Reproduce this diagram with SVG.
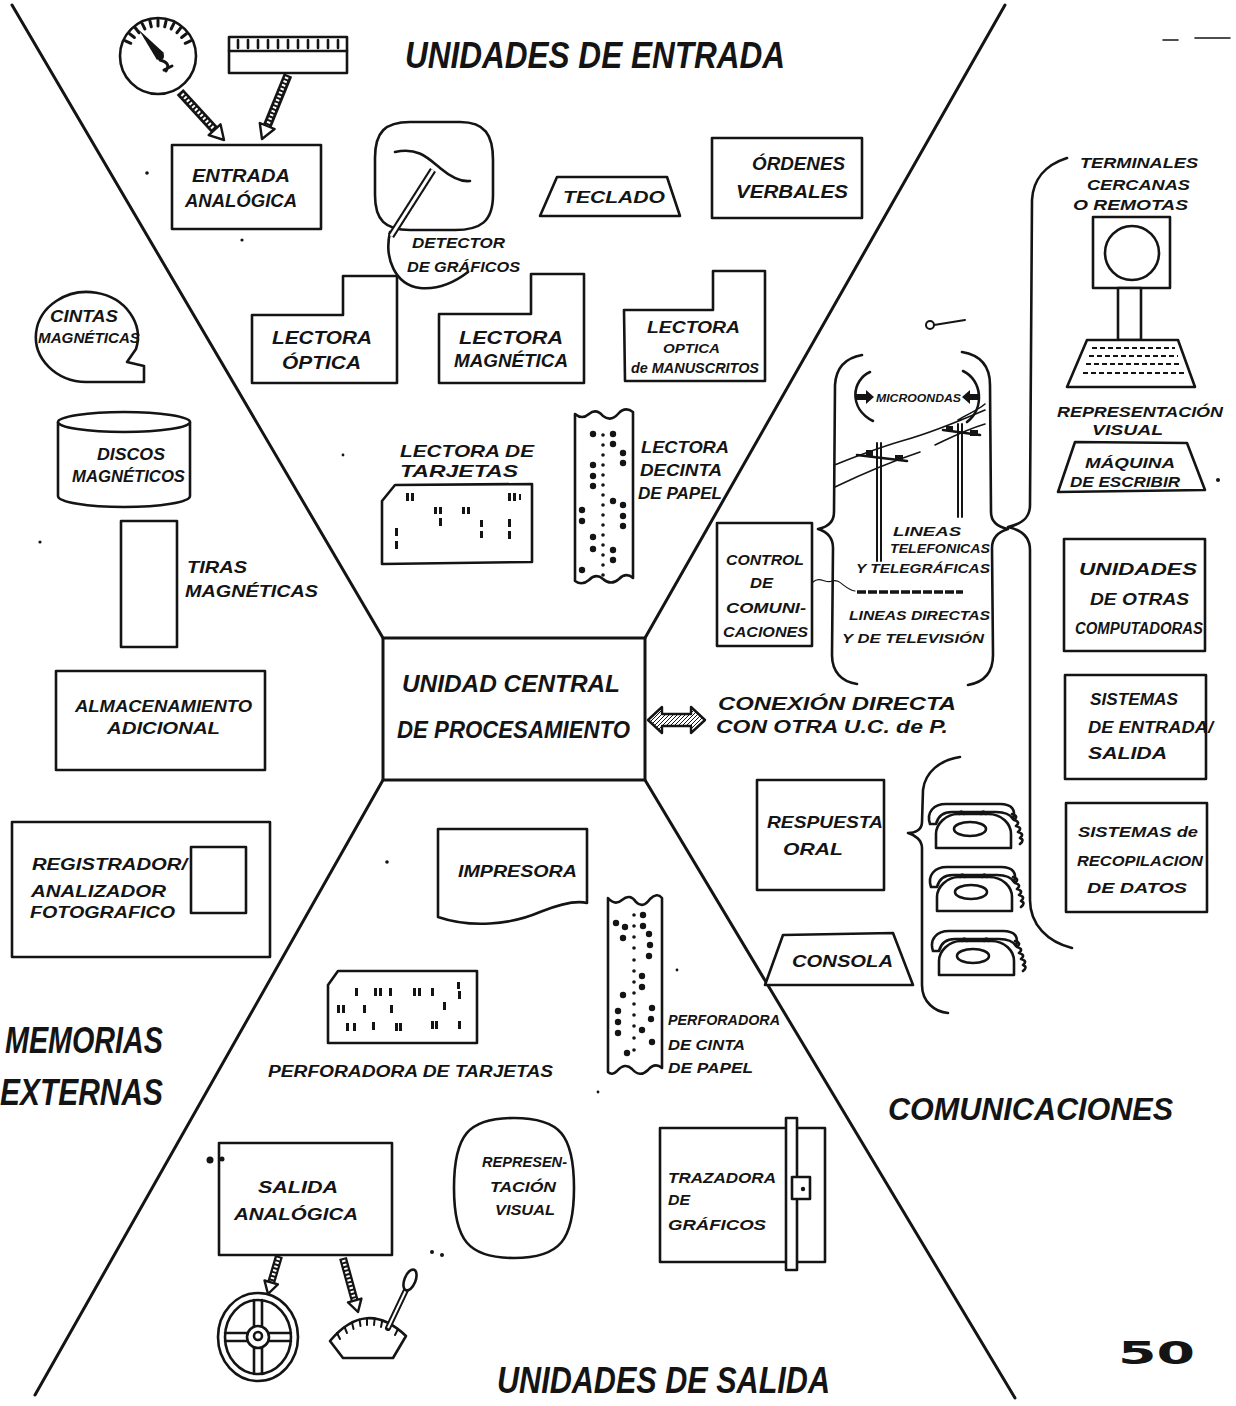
<svg xmlns="http://www.w3.org/2000/svg" width="1236" height="1406" viewBox="0 0 1236 1406">
<style>
  .ink{fill:none;stroke:#141414;stroke-width:2.6;stroke-linecap:round;stroke-linejoin:round}
  .thin{fill:none;stroke:#141414;stroke-width:1.6;stroke-linecap:round;stroke-linejoin:round}
  .box{fill:#fff;stroke:#141414;stroke-width:2.6;stroke-linejoin:round}
  .div{fill:none;stroke:#141414;stroke-width:3;stroke-linecap:round}
  .dot{fill:#141414}
  .shaft{stroke:#141414;stroke-width:9;stroke-linecap:butt}
  .shaft-in{stroke:#fff;stroke-width:3.5;stroke-dasharray:2 2}
  .head{fill:#fff;stroke:#141414;stroke-width:2.4;stroke-linejoin:round}
  text{font-family:"Liberation Sans","DejaVu Sans",Arial,sans-serif;font-style:italic;font-weight:bold;fill:#141414}
  .s11{font-size:11px}.s13{font-size:13px}.s14{font-size:14px}.s15{font-size:15px}
  .s16{font-size:16px}.s17{font-size:17px}.s18{font-size:18px}.s23{font-size:23px}
  .s32{font-size:32px}.s36{font-size:36px}
  .num{font-family:"DejaVu Sans","Liberation Sans",sans-serif;font-style:normal;font-weight:900}
</style>
<defs>
  <!-- rotary telephone, drawn at local origin -->
  <g id="phone">
    <path class="box" d="M8,46 L8,32 C8,22 18,12 30,12 L60,12 C74,12 83,22 83,32 L83,46 Z"/>
    <path class="box" d="M2,22 C-2,10 6,2 18,2 L72,2 C84,2 88,8 85,17 C82,12 76,10 68,10 L24,10 C16,10 10,14 8,22 Z"/>
    <path class="ink" d="M31,12 q2,-5 5,0 M53,12 q2,-5 5,0"/>
    <ellipse class="ink" cx="42" cy="27" rx="16" ry="7"/>
    <path class="ink" d="M84,12 q7,2 2,6 q7,2 2,6 q7,2 2,6 q7,2 2,6 q5,2 0,6"/>
  </g>
  <pattern id="hatch" width="4" height="4" patternUnits="userSpaceOnUse">
    <rect width="4" height="4" fill="#fff"/>
    <path d="M0,4 L4,0" stroke="#141414" stroke-width="1"/>
  </pattern>
</defs>

<!-- region dividers -->
<g id="dividers">
  <path class="div" d="M12,5 L383,638 M1005,5 L645,638 M383,780 L35,1395 M645,780 L1015,1398"/>
  <path class="thin" d="M1163,40 L1178,40 M1195,38 L1230,38"/>
</g>

<!-- section titles -->
<g id="titles">
  <text class="s36" x="405" y="68" textLength="380" lengthAdjust="spacingAndGlyphs">UNIDADES DE ENTRADA</text>
  <text class="s36" x="5" y="1053" textLength="158" lengthAdjust="spacingAndGlyphs">MEMORIAS</text>
  <text class="s36" x="0" y="1105" textLength="163" lengthAdjust="spacingAndGlyphs">EXTERNAS</text>
  <text class="s32" x="888" y="1120" textLength="285" lengthAdjust="spacingAndGlyphs">COMUNICACIONES</text>
  <text class="s36" x="497" y="1393" textLength="333" lengthAdjust="spacingAndGlyphs">UNIDADES DE SALIDA</text>
  <text class="s32 num" x="1118" y="1364" textLength="77" lengthAdjust="spacingAndGlyphs">50</text>
</g>

<!-- central processing unit -->
<g id="cpu">
  <rect class="box" x="383" y="638" width="262" height="142" style="stroke-width:3"/>
  <text class="s23" x="402" y="692" textLength="218" lengthAdjust="spacingAndGlyphs">UNIDAD CENTRAL</text>
  <text class="s23" x="397" y="738" textLength="233" lengthAdjust="spacingAndGlyphs">DE PROCESAMIENTO</text>
</g>

<!-- input units -->
<g id="gauge">
  <circle class="box" cx="158" cy="56" r="38"/>
  <path class="ink" style="stroke-width:3" d="M130.8,43.3 L125.4,40.8 M134.4,37.5 L129.6,33.8 M139.1,32.7 L135.4,28 M144.9,29 L142.2,23.6 M151.3,26.8 L149.9,20.9 M158,26 L158,20 M164.7,26.8 L166.1,20.9 M171.1,29 L173.8,23.6 M176.9,32.7 L180.6,28 M181.6,37.5 L186.4,33.8 M185.2,43.3 L190.6,40.8"/>
  <polygon class="dot" points="139,30 164,53 157,60"/>
  <circle class="dot" cx="160" cy="56" r="4"/>
  <path class="ink" style="stroke-width:3" d="M160,60 C167,62 170,65 166,71 M164,70 L172,66"/>
</g>
<g id="ruler">
  <rect class="box" x="229" y="37" width="118" height="36"/>
  <path class="ink" d="M229,51 L347,51 M238,40 L238,48 M248,40 L248,48 M258,40 L258,48 M268,40 L268,48 M278,40 L278,48 M288,40 L288,48 M298,40 L298,48 M308,40 L308,48 M318,40 L318,48 M328,40 L328,48 M338,40 L338,48"/>
</g>
<g id="entrada-analogica">
  <rect class="box" x="172" y="145" width="149" height="84"/>
  <text class="s18" x="192" y="182" textLength="98" lengthAdjust="spacingAndGlyphs">ENTRADA</text>
  <text class="s18" x="185" y="207" textLength="112" lengthAdjust="spacingAndGlyphs">ANALÓGICA</text>
</g>
<g id="detector-graficos">
  <path class="box" d="M410,122 L460,122 C485,122 493,135 493,160 L493,195 C493,222 480,230 455,230 L410,230 C385,230 375,220 375,195 L375,158 C375,132 385,122 410,122 Z"/>
  <path class="ink" d="M395,152 C418,147 428,158 440,168 C452,178 462,182 470,181"/>
  <path class="ink" d="M390,232 C384,258 395,285 420,288 C440,290 455,282 468,272"/>
  <line x1="391" y1="236" x2="433" y2="170" class="shaft" style="stroke-width:7"/>
  <line x1="391" y1="236" x2="433" y2="170" stroke="#fff" stroke-width="3"/>
  <text class="s15" x="412" y="248" textLength="93" lengthAdjust="spacingAndGlyphs">DETECTOR</text>
  <text class="s15" x="407" y="272" textLength="113" lengthAdjust="spacingAndGlyphs">DE GRÁFICOS</text>
</g>
<g id="teclado">
  <polygon class="box" points="557,177 667,177 680,216 540,216"/>
  <text class="s17" x="563" y="203" textLength="102" lengthAdjust="spacingAndGlyphs">TECLADO</text>
</g>
<g id="ordenes-verbales">
  <rect class="box" x="712" y="138" width="150" height="80"/>
  <text class="s18" x="752" y="170" textLength="93" lengthAdjust="spacingAndGlyphs">ÓRDENES</text>
  <text class="s18" x="736" y="198" textLength="112" lengthAdjust="spacingAndGlyphs">VERBALES</text>
</g>
<g id="lectora-optica">
  <polygon class="box" points="252,315 343,315 343,276 397,276 397,383 252,383"/>
  <text class="s18" x="272" y="344" textLength="100" lengthAdjust="spacingAndGlyphs">LECTORA</text>
  <text class="s18" x="282" y="369" textLength="79" lengthAdjust="spacingAndGlyphs">ÓPTICA</text>
</g>
<g id="lectora-magnetica">
  <polygon class="box" points="439,314 531,314 531,274 584,274 584,383 439,383"/>
  <text class="s18" x="459" y="344" textLength="104" lengthAdjust="spacingAndGlyphs">LECTORA</text>
  <text class="s18" x="454" y="367" textLength="114" lengthAdjust="spacingAndGlyphs">MAGNÉTICA</text>
</g>
<g id="lectora-manuscritos">
  <polygon class="box" points="624,310 713,310 713,271 765,271 765,381 625,381"/>
  <text class="s16" x="647" y="333" textLength="93" lengthAdjust="spacingAndGlyphs">LECTORA</text>
  <text class="s13" x="663" y="353" textLength="57" lengthAdjust="spacingAndGlyphs">OPTICA</text>
  <text class="s15" x="631" y="373" textLength="128" lengthAdjust="spacingAndGlyphs">de MANUSCRITOS</text>
</g>
<g id="lectora-tarjetas" transform="translate(0,-12)">
  <text class="s17" x="400" y="469" textLength="134" lengthAdjust="spacingAndGlyphs">LECTORA DE</text>
  <text class="s17" x="400" y="489" textLength="118" lengthAdjust="spacingAndGlyphs">TARJETAS</text>
  <polygon class="box" points="395,497 532,496 532,574 382,576 382,513"/>
  <g class="dot">
    <rect x="406" y="505" width="3" height="8"/><rect x="411" y="505" width="3" height="8"/>
    <rect x="508" y="505" width="3" height="8"/><rect x="513" y="505" width="3" height="8"/><rect x="519" y="506" width="2" height="6"/>
    <rect x="434" y="519" width="3" height="7"/><rect x="439" y="519" width="3" height="7"/>
    <rect x="462" y="519" width="3" height="7"/><rect x="467" y="519" width="3" height="7"/>
    <rect x="439" y="530" width="3" height="8"/>
    <rect x="480" y="532" width="3" height="7"/><rect x="480" y="543" width="3" height="7"/>
    <rect x="508" y="531" width="3" height="8"/><rect x="508" y="543" width="3" height="8"/>
    <rect x="395" y="540" width="3" height="8"/><rect x="395" y="553" width="3" height="8"/>
  </g>
</g>
<g id="lectora-cinta" transform="translate(0,-12)">
  <path class="box" d="M575,426 Q582,432 589,426 Q596,420 603,428 Q611,434 618,426 Q625,418 633,424 L633,590 Q626,584 619,591 Q611,598 603,591 Q596,585 589,592 Q582,598 575,593 Z"/>
  <g class="dot">
    <circle cx="603" cy="447" r="1.8"/><circle cx="603" cy="457" r="1.8"/><circle cx="603" cy="467" r="1.8"/><circle cx="603" cy="477" r="1.8"/><circle cx="603" cy="487" r="1.8"/><circle cx="603" cy="497" r="1.8"/><circle cx="603" cy="507" r="1.8"/><circle cx="603" cy="517" r="1.8"/><circle cx="603" cy="527" r="1.8"/><circle cx="603" cy="537" r="1.8"/><circle cx="603" cy="547" r="1.8"/><circle cx="603" cy="557" r="1.8"/><circle cx="603" cy="567" r="1.8"/><circle cx="603" cy="577" r="1.8"/><circle cx="603" cy="587" r="1.8"/>
    <circle cx="593" cy="446" r="3.2"/><circle cx="613" cy="446" r="3.2"/><circle cx="613" cy="456" r="3.2"/><circle cx="623" cy="465" r="3.2"/><circle cx="623" cy="475" r="3.2"/>
    <circle cx="593" cy="477" r="3.2"/><circle cx="593" cy="488" r="3.2"/><circle cx="593" cy="498" r="3.2"/><circle cx="613" cy="513" r="3.2"/><circle cx="623" cy="517" r="3.2"/>
    <circle cx="582" cy="522" r="3.2"/><circle cx="582" cy="533" r="3.2"/><circle cx="623" cy="528" r="3.2"/><circle cx="623" cy="538" r="3.2"/><circle cx="593" cy="549" r="3.2"/>
    <circle cx="593" cy="561" r="3.2"/><circle cx="613" cy="562" r="3.2"/><circle cx="613" cy="572" r="3.2"/><circle cx="582" cy="582" r="3.2"/>
  </g>
  <text class="s17" x="641" y="465" textLength="88" lengthAdjust="spacingAndGlyphs">LECTORA</text>
  <text class="s17" x="640" y="488" textLength="82" lengthAdjust="spacingAndGlyphs">DECINTA</text>
  <text class="s17" x="638" y="511" textLength="84" lengthAdjust="spacingAndGlyphs">DE PAPEL</text>
</g>

<!-- external memories -->
<g id="cintas-magneticas">
  <path class="box" d="M136,349 L127,362 L144,366 L144,382 L86,382 A51,45 0 1 1 136,349 Z"/>
  <text class="s16" x="50" y="322" textLength="68" lengthAdjust="spacingAndGlyphs">CINTAS</text>
  <text class="s15" x="38" y="343" textLength="102" lengthAdjust="spacingAndGlyphs">MAGNÉTICAS</text>
</g>
<g id="discos-magneticos">
  <path class="box" d="M58,422 L58,496 A66,11 0 0 0 190,496 L190,422"/>
  <ellipse class="box" cx="124" cy="422" rx="66" ry="10"/>
  <text class="s16" x="97" y="460" textLength="68" lengthAdjust="spacingAndGlyphs">DISCOS</text>
  <text class="s16" x="72" y="482" textLength="113" lengthAdjust="spacingAndGlyphs">MAGNÉTICOS</text>
</g>
<g id="tiras-magneticas">
  <rect class="box" x="121" y="521" width="56" height="126"/>
  <text class="s17" x="187" y="573" textLength="60" lengthAdjust="spacingAndGlyphs">TIRAS</text>
  <text class="s17" x="185" y="597" textLength="133" lengthAdjust="spacingAndGlyphs">MAGNÉTICAS</text>
</g>
<g id="almacenamiento-adicional">
  <rect class="box" x="56" y="671" width="209" height="99"/>
  <text class="s16" x="75" y="712" textLength="177" lengthAdjust="spacingAndGlyphs">ALMACENAMIENTO</text>
  <text class="s16" x="107" y="734" textLength="113" lengthAdjust="spacingAndGlyphs">ADICIONAL</text>
</g>
<g id="registrador-fotografico">
  <rect class="box" x="12" y="822" width="258" height="135"/>
  <rect class="box" x="191" y="847" width="55" height="66"/>
  <text class="s16" x="32" y="870" textLength="155" lengthAdjust="spacingAndGlyphs">REGISTRADOR/</text>
  <text class="s16" x="31" y="897" textLength="135" lengthAdjust="spacingAndGlyphs">ANALIZADOR</text>
  <text class="s16" x="30" y="918" textLength="145" lengthAdjust="spacingAndGlyphs">FOTOGRAFICO</text>
</g>

<!-- communications -->
<g id="conexion-directa">
  <text class="s18" x="718" y="710" textLength="238" lengthAdjust="spacingAndGlyphs">CONEXIÓN DIRECTA</text>
  <text class="s18" x="716" y="733" textLength="232" lengthAdjust="spacingAndGlyphs">CON OTRA U.C. de P.</text>
</g>
<g id="control-comunicaciones">
  <rect class="box" x="717" y="523" width="95" height="123"/>
  <text class="s14" x="726" y="565" textLength="78" lengthAdjust="spacingAndGlyphs">CONTROL</text>
  <text class="s14" x="750" y="588" textLength="23" lengthAdjust="spacingAndGlyphs">DE</text>
  <text class="s14" x="726" y="613" textLength="80" lengthAdjust="spacingAndGlyphs">COMUNI-</text>
  <text class="s14" x="723" y="637" textLength="85" lengthAdjust="spacingAndGlyphs">CACIONES</text>
</g>
<g id="lineas">
  <path class="ink" d="M862,355 C845,358 836,368 835,385 L834,512 C834,522 828,527 818,529 C828,532 833,538 833,548 L832,655 C832,672 842,682 857,684"/>
  <path class="ink" d="M962,352 C980,355 990,365 990,385 L991,512 C991,522 998,527 1008,529 C998,532 992,538 992,548 L993,655 C993,672 985,682 968,685"/>
  <path class="ink" d="M870,372 C852,380 848,408 873,421 M963,371 C982,380 985,408 967,422"/>
  <polygon class="dot" points="856,394 866,394 866,390 874,397 866,404 866,400 856,400"/>
  <polygon class="dot" points="979,394 970,394 970,390 962,397 970,404 970,400 979,400"/>
  <text class="s11" x="876" y="402" textLength="85" lengthAdjust="spacingAndGlyphs">MICROONDAS</text>
  <path class="thin" style="stroke-width:2" d="M877,443 L877,561 M881,443 L881,561 M958,424 L958,517 M962,424 L962,517"/>
  <path class="ink" d="M857,455 L907,461 M943,430 L980,435"/>
  <path class="dot" d="M866,450 h7 v6 h-7 z M895,455 h8 v6 h-8 z M946,426 h7 v5 h-7 z M970,430 h8 v6 h-8 z"/>
  <path class="thin" d="M834,465 C860,455 880,447 905,440 C930,433 950,425 985,410 M835,487 C860,475 890,462 920,452 M935,445 C950,438 965,430 985,424 M958,420 C968,414 978,410 985,404"/>
  <text class="s13" x="893" y="536" textLength="68" lengthAdjust="spacingAndGlyphs">LINEAS</text>
  <text class="s13" x="890" y="553" textLength="100" lengthAdjust="spacingAndGlyphs">TELEFONICAS</text>
  <text class="s13" x="856" y="573" textLength="134" lengthAdjust="spacingAndGlyphs">Y TELEGRÁFICAS</text>
  <path class="thin" style="stroke-width:1.2" d="M813,582 C820,576 826,584 832,581 C840,578 845,590 855,591"/>
  <line x1="857" y1="592" x2="963" y2="592" stroke="#141414" stroke-width="3.5" stroke-dasharray="9 2"/>
  <text class="s13" x="849" y="620" textLength="141" lengthAdjust="spacingAndGlyphs">LINEAS DIRECTAS</text>
  <text class="s13" x="842" y="643" textLength="142" lengthAdjust="spacingAndGlyphs">Y DE TELEVISIÓN</text>
  <circle class="ink" style="stroke-width:2" cx="930" cy="325" r="4"/>
  <path class="ink" style="stroke-width:2" d="M934,325 L965,320"/>
</g>
<g id="terminales">
  <path class="ink" d="M1067,158 C1045,165 1033,180 1032,200 L1030,505 C1030,518 1022,524 1008,527 C1022,530 1030,538 1030,550 L1030,900 C1030,925 1048,942 1072,948"/>
  <text class="s15" x="1080" y="168" textLength="118" lengthAdjust="spacingAndGlyphs">TERMINALES</text>
  <text class="s15" x="1087" y="190" textLength="103" lengthAdjust="spacingAndGlyphs">CERCANAS</text>
  <text class="s15" x="1073" y="210" textLength="115" lengthAdjust="spacingAndGlyphs">O REMOTAS</text>
</g>
<g id="representacion-visual-terminal">
  <rect class="box" x="1093" y="217" width="77" height="71"/>
  <circle class="ink" cx="1132" cy="253" r="27"/>
  <rect class="box" x="1118" y="288" width="23" height="52"/>
  <polygon class="box" points="1087,340 1178,340 1195,387 1067,387"/>
  <path stroke="#141414" stroke-width="2.2" stroke-dasharray="5 3" d="M1092,348 L1175,348 M1089,356 L1178,356 M1086,364 L1181,364 M1083,373 L1184,373"/>
  <text class="s15" x="1057" y="417" textLength="166" lengthAdjust="spacingAndGlyphs">REPRESENTACIÓN</text>
  <text class="s15" x="1092" y="435" textLength="71" lengthAdjust="spacingAndGlyphs">VISUAL</text>
</g>
<g id="maquina-escribir">
  <polygon class="box" points="1075,442 1187,443 1205,490 1058,492"/>
  <text class="s15" x="1085" y="468" textLength="90" lengthAdjust="spacingAndGlyphs">MÁQUINA</text>
  <text class="s15" x="1070" y="487" textLength="110" lengthAdjust="spacingAndGlyphs">DE ESCRIBIR</text>
  <circle class="dot" cx="1218" cy="480" r="2"/>
</g>
<g id="otras-computadoras">
  <rect class="box" x="1064" y="539" width="141" height="112"/>
  <text class="s17" x="1079" y="575" textLength="118" lengthAdjust="spacingAndGlyphs">UNIDADES</text>
  <text class="s17" x="1090" y="605" textLength="99" lengthAdjust="spacingAndGlyphs">DE OTRAS</text>
  <text class="s16" x="1075" y="634" textLength="128" lengthAdjust="spacingAndGlyphs">COMPUTADORAS</text>
</g>
<g id="sistemas-entrada-salida">
  <rect class="box" x="1065" y="675" width="141" height="104"/>
  <text class="s16" x="1090" y="705" textLength="88" lengthAdjust="spacingAndGlyphs">SISTEMAS</text>
  <text class="s16" x="1088" y="733" textLength="125" lengthAdjust="spacingAndGlyphs">DE ENTRADA/</text>
  <text class="s16" x="1088" y="759" textLength="79" lengthAdjust="spacingAndGlyphs">SALIDA</text>
</g>
<g id="sistemas-recopilacion">
  <rect class="box" x="1066" y="803" width="141" height="109"/>
  <text class="s15" x="1078" y="837" textLength="120" lengthAdjust="spacingAndGlyphs">SISTEMAS de</text>
  <text class="s15" x="1077" y="866" textLength="126" lengthAdjust="spacingAndGlyphs">RECOPILACION</text>
  <text class="s15" x="1087" y="893" textLength="100" lengthAdjust="spacingAndGlyphs">DE DATOS</text>
</g>
<g id="respuesta-oral">
  <rect class="box" x="757" y="780" width="127" height="110"/>
  <text class="s17" x="767" y="828" textLength="116" lengthAdjust="spacingAndGlyphs">RESPUESTA</text>
  <text class="s17" x="783" y="855" textLength="60" lengthAdjust="spacingAndGlyphs">ORAL</text>
</g>
<g id="telefonos">
  <path class="ink" d="M960,757 C940,760 925,772 923,790 L922,822 C922,830 915,833 908,833 C915,835 922,840 922,848 L922,985 C922,1002 935,1012 948,1013"/>
  <use href="#phone" x="928" y="802"/>
  <use href="#phone" x="929" y="865"/>
  <use href="#phone" x="931" y="929"/>
</g>
<g id="consola">
  <polygon class="box" points="783,935 893,933 913,985 765,985"/>
  <text class="s17" x="792" y="967" textLength="101" lengthAdjust="spacingAndGlyphs">CONSOLA</text>
</g>

<!-- output units -->
<g id="impresora">
  <path class="box" d="M438,829 L587,829 L587,903 C575,900 560,904 540,912 C510,925 470,928 438,917 Z"/>
  <text class="s17" x="458" y="877" textLength="119" lengthAdjust="spacingAndGlyphs">IMPRESORA</text>
</g>
<g id="perforadora-tarjetas">
  <polygon class="box" points="338,971 477,971 477,1043 328,1043 328,985"/>
  <g class="dot">
    <rect x="355" y="988" width="3" height="8"/><rect x="374" y="988" width="3" height="8"/><rect x="379" y="988" width="3" height="8"/><rect x="389" y="988" width="3" height="8"/>
    <rect x="413" y="988" width="3" height="8"/><rect x="418" y="988" width="3" height="8"/><rect x="431" y="988" width="3" height="8"/><rect x="457" y="982" width="3" height="7"/><rect x="458" y="991" width="3" height="8"/>
    <rect x="337" y="1005" width="3" height="8"/><rect x="342" y="1005" width="3" height="8"/><rect x="363" y="1005" width="3" height="8"/><rect x="390" y="1005" width="3" height="8"/><rect x="443" y="1002" width="3" height="8"/>
    <rect x="346" y="1023" width="3" height="8"/><rect x="353" y="1023" width="3" height="8"/><rect x="372" y="1022" width="3" height="8"/><rect x="395" y="1023" width="3" height="8"/><rect x="399" y="1023" width="3" height="8"/>
    <rect x="431" y="1021" width="3" height="8"/><rect x="435" y="1021" width="3" height="8"/><rect x="458" y="1021" width="3" height="8"/>
  </g>
  <text class="s16" x="268" y="1077" textLength="285" lengthAdjust="spacingAndGlyphs">PERFORADORA DE TARJETAS</text>
</g>
<g id="perforadora-cinta">
  <path class="box" d="M608,898 Q615,906 622,900 Q630,893 636,902 Q643,909 650,899 Q657,892 662,898 L662,1068 Q655,1062 648,1070 Q640,1078 632,1069 Q625,1062 617,1071 Q612,1076 608,1072 Z"/>
  <g class="dot">
    <circle cx="634" cy="915" r="1.8"/><circle cx="634" cy="926" r="1.8"/><circle cx="634" cy="937" r="1.8"/><circle cx="634" cy="948" r="1.8"/><circle cx="634" cy="960" r="1.8"/><circle cx="634" cy="971" r="1.8"/><circle cx="634" cy="982" r="1.8"/><circle cx="634" cy="993" r="1.8"/><circle cx="634" cy="1004" r="1.8"/><circle cx="634" cy="1015" r="1.8"/><circle cx="634" cy="1026" r="1.8"/><circle cx="634" cy="1038" r="1.8"/><circle cx="634" cy="1050" r="1.8"/>
    <circle cx="616" cy="923" r="3.2"/><circle cx="625" cy="927" r="3.2"/><circle cx="643" cy="915" r="3.2"/><circle cx="643" cy="926" r="3.2"/><circle cx="623" cy="938" r="3.2"/>
    <circle cx="649" cy="934" r="3.2"/><circle cx="650" cy="945" r="3.2"/><circle cx="649" cy="956" r="3.2"/><circle cx="642" cy="976" r="3.2"/><circle cx="642" cy="987" r="3.2"/>
    <circle cx="623" cy="995" r="3.2"/><circle cx="618" cy="1011" r="3.2"/><circle cx="618" cy="1022" r="3.2"/><circle cx="618" cy="1033" r="3.2"/><circle cx="652" cy="1008" r="3.2"/>
    <circle cx="651" cy="1019" r="3.2"/><circle cx="642" cy="1030" r="3.2"/><circle cx="652" cy="1042" r="3.2"/><circle cx="627" cy="1053" r="3.2"/>
  </g>
  <text class="s14" x="668" y="1025" textLength="112" lengthAdjust="spacingAndGlyphs">PERFORADORA</text>
  <text class="s14" x="668" y="1050" textLength="77" lengthAdjust="spacingAndGlyphs">DE CINTA</text>
  <text class="s14" x="668" y="1073" textLength="85" lengthAdjust="spacingAndGlyphs">DE PAPEL</text>
</g>
<g id="salida-analogica">
  <rect class="box" x="219" y="1143" width="173" height="112"/>
  <circle class="dot" cx="210" cy="1160" r="3.5"/>
  <circle class="dot" cx="222" cy="1159" r="2.5"/>
  <text class="s17" x="258" y="1193" textLength="80" lengthAdjust="spacingAndGlyphs">SALIDA</text>
  <text class="s17" x="234" y="1220" textLength="124" lengthAdjust="spacingAndGlyphs">ANALÓGICA</text>
</g>
<g id="volante">
  <ellipse class="box" cx="258" cy="1337" rx="40" ry="44"/>
  <ellipse class="ink" cx="258" cy="1337" rx="33" ry="37"/>
  <path class="ink" d="M225,1333 L291,1333 M225,1341 L291,1341 M254,1300 L254,1374 M262,1300 L262,1374"/>
  <circle class="box" cx="258" cy="1337" r="11"/>
  <circle class="ink" cx="258" cy="1336" r="4"/>
</g>
<g id="cuadrante">
  <path class="box" d="M330,1341 Q366,1298 406,1336 L393,1358 L343,1358 Z"/>
  <path class="ink" style="stroke-width:2" d="M337,1333 L340,1339 M344.5,1327 L347,1333 M352,1322.5 L353.5,1329 M359.5,1319.6 L360.5,1326 M367,1318 L367,1325 M374.7,1318.6 L374,1325 M382.3,1320.5 L381,1327 M390,1324 L388,1330 M398,1329 L395,1335"/>
  <path class="ink" style="stroke-width:6" d="M388,1328 L406,1290"/>
  <path d="M388,1328 L406,1290" stroke="#fff" stroke-width="2"/>
  <ellipse class="box" cx="410" cy="1280" rx="5.5" ry="11" transform="rotate(22 410 1280)"/>
</g>
<g id="representacion-visual">
  <path class="box" d="M514,1118 C560,1118 574,1135 574,1188 C574,1240 560,1258 514,1258 C468,1258 454,1240 454,1188 C454,1135 468,1118 514,1118 Z"/>
  <text class="s15" x="482" y="1167" textLength="85" lengthAdjust="spacingAndGlyphs">REPRESEN-</text>
  <text class="s15" x="490" y="1192" textLength="66" lengthAdjust="spacingAndGlyphs">TACIÓN</text>
  <text class="s15" x="495" y="1215" textLength="60" lengthAdjust="spacingAndGlyphs">VISUAL</text>
</g>
<g id="trazadora-graficos">
  <rect class="box" x="660" y="1128" width="165" height="134"/>
  <rect class="box" x="786" y="1118" width="11" height="152"/>
  <rect class="box" x="792" y="1177" width="18" height="22"/>
  <circle class="dot" cx="803" cy="1189" r="2.2"/>
  <text class="s15" x="668" y="1183" textLength="108" lengthAdjust="spacingAndGlyphs">TRAZADORA</text>
  <text class="s15" x="668" y="1205" textLength="22" lengthAdjust="spacingAndGlyphs">DE</text>
  <text class="s15" x="668" y="1230" textLength="98" lengthAdjust="spacingAndGlyphs">GRÁFICOS</text>
</g>

<!-- connectors: signal arrows -->
<g id="connectors">
  <line class="shaft" x1="180" y1="92" x2="214.6" y2="129.7"/>
  <line class="shaft-in" x1="182" y1="94" x2="214.6" y2="129.7"/>
  <polygon class="head" points="224,140 208.7,135.1 220.5,124.3"/>
  <line class="shaft" x1="288" y1="75" x2="267.2" y2="126"/>
  <line class="shaft-in" x1="287" y1="77" x2="267.2" y2="126"/>
  <polygon class="head" points="262,139 259.8,123 274.6,129"/>
  <polygon points="648,720 662,707 662,714 691,714 691,707 705,720 691,733 691,726 662,726 662,733" fill="url(#hatch)" stroke="#141414" stroke-width="2.4" stroke-linejoin="round"/>
  <line class="shaft" x1="279" y1="1256" x2="271.2" y2="1282.4" style="stroke-width:8"/>
  <line class="shaft-in" x1="278.5" y1="1258" x2="271.2" y2="1282.4"/>
  <polygon class="head" points="268,1294 264.5,1280.5 277.9,1284.3"/>
  <line class="shaft" x1="343" y1="1258" x2="354.7" y2="1300.5" style="stroke-width:8"/>
  <line class="shaft-in" x1="343.5" y1="1260" x2="354.7" y2="1300.5"/>
  <polygon class="head" points="358,1312 348,1302.4 361.4,1298.6"/>
</g>

<!-- loose ink marks -->
<g id="marks" class="dot">
  <circle cx="147" cy="173" r="1.8"/>
  <circle cx="242" cy="240" r="1.6"/>
  <circle cx="40" cy="542" r="1.6"/>
  <circle cx="343" cy="455" r="1.4"/>
  <circle cx="387" cy="862" r="1.8"/>
  <circle cx="677" cy="970" r="1.4"/>
  <circle cx="598" cy="1092" r="1.4"/>
  <circle cx="432" cy="1252" r="2"/><circle cx="442" cy="1255" r="2"/>
</g>
</svg>
